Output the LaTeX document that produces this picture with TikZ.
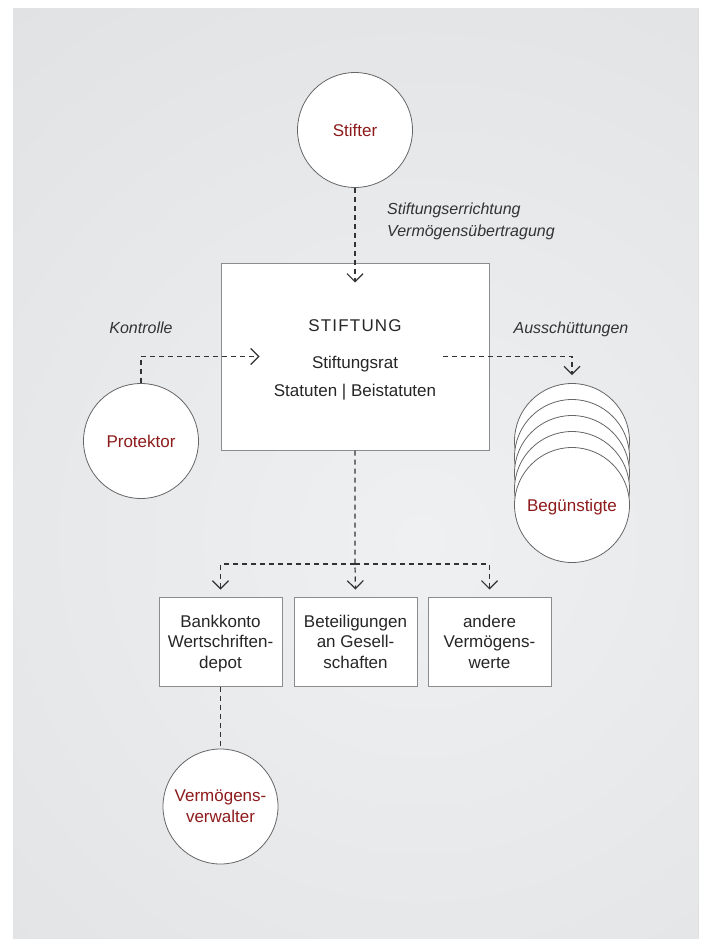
\documentclass[tikz,border=0pt]{standalone}
\usepackage{fontspec}
\setmainfont{Liberation Sans}
\usetikzlibrary{arrows.meta}
\definecolor{bgin}{HTML}{EFF0F2}
\definecolor{bgout}{HTML}{D2D3D5}
\definecolor{darkred}{HTML}{8E1B1B}
\definecolor{linegray}{HTML}{333333}
\definecolor{boxgray}{HTML}{8C8C8C}
\definecolor{circgray}{HTML}{666666}
\definecolor{labgray}{HTML}{333333}
\definecolor{txt}{HTML}{262626}
\begin{document}
\begin{tikzpicture}[x=1pt,y=-1pt,
  circ/.style={circle,draw=circgray,line width=0.8pt,fill=white,minimum size=115pt,inner sep=0pt},
  boxb/.style={rectangle,draw=boxgray,line width=1pt,fill=white,inner sep=0pt},
  lbl/.style={inner sep=0pt,anchor=base,font=\fontsize{17}{20}\selectfont},
  redt/.style={lbl,text=darkred},
  boxt/.style={lbl,text=txt},
  itl/.style={inner sep=0pt,anchor=base,font=\fontsize{16}{19}\selectfont\itshape,text=labgray},
  smallbox/.style={boxb,minimum width=123pt,minimum height=89pt},
  conn/.style={draw=linegray,line width=1.2pt,dash pattern=on 5pt off 4pt},
  arr/.style={conn,-{Straight Barb[length=8pt,width=16pt]}}
]
\useasboundingbox (0,0) rectangle (703,939);
\fill[white] (0,0) rectangle (703,939);
\begin{scope}
  \clip (13,9) rectangle (698,939);
  \fill[inner color=bgin,outer color=bgout] (420,540) circle[radius=1400pt];
\end{scope}

% Stifter
\node[circ] (stifter) at (355,130) {};
\node[redt] (stifterT) at (355,136) {Stifter};
\node[itl,anchor=base west] (lab1) at (387,214) {Stiftungserrichtung};
\node[itl,anchor=base west] (lab2) at (387,236) {Vermögensübertragung};

% Stiftung
\node[boxb,minimum width=268pt,minimum height=187pt] (main) at (355,356.5) {};
\node[boxt,font=\fontsize{17}{20}\selectfont\addfontfeatures{LetterSpace=7}] (mainT) at (355,331) {STIFTUNG};
\node[boxt] (mainT2) at (355,368) {Stiftungsrat};
\node[boxt] (mainT3) at (355,396) {Statuten | Beistatuten};

% Protektor
\node[circ] (prot) at (141,441) {};
\node[redt] (protT) at (141,447) {Protektor};
\node[itl] (kontr) at (141,333) {Kontrolle};

% Beguenstigte
\node[itl] (aus) at (571,333) {Ausschüttungen};
\node[circ] (beg1) at (572,441) {};
\node[circ] (beg2) at (572,457) {};
\node[circ] (beg3) at (572,473) {};
\node[circ] (beg4) at (572,489) {};
\node[circ] (beg5) at (572,505) {};
\node[redt] (begT) at (572,511) {Begünstigte};

% bottom boxes
\node[smallbox] (b1) at (220.5,641.5) {};
\node[smallbox] (b2) at (355.5,641.5) {};
\node[smallbox] (b3) at (489.5,641.5) {};
\node[boxt] (b1a) at (220.5,627) {Bankkonto};
\node[boxt] (b1b) at (220.5,647.5) {Wertschriften-};
\node[boxt] (b1c) at (220.5,668) {depot};
\node[boxt] (b2a) at (355.5,627) {Beteiligungen};
\node[boxt] (b2b) at (355.5,647.5) {an Gesell-};
\node[boxt] (b2c) at (355.5,668) {schaften};
\node[boxt] (b3a) at (489.5,627) {andere};
\node[boxt] (b3b) at (489.5,647.5) {Vermögens-};
\node[boxt] (b3c) at (489.5,668) {werte};

% Verwalter
\node[circ] (verw) at (220.5,806.5) {};
\node[redt] (verwA) at (220.5,801) {Vermögens-};
\node[redt] (verwB) at (220.5,822) {verwalter};

% connectors
\coordinate (tipTop) at ([yshift=-20pt]main.north);
\coordinate (tipLeft) at ([xshift=39pt]main.west);
\coordinate (startRight) at ([xshift=-47pt]main.east);
\coordinate (tipBeg) at ([yshift=8pt]beg1.north);
\coordinate (split) at (355,564);
\coordinate (tip1) at ([yshift=7pt]b1.north);
\coordinate (tip2) at ([yshift=7pt]b2.north);
\coordinate (tip3) at ([yshift=7pt]b3.north);

\draw[arr] (stifter.south) -- (tipTop);
\draw[arr] (prot.north) |- (tipLeft);
\draw[arr] (startRight) -| (tipBeg);
\draw[arr] (main.south) -- (split) -- (tip2);
\draw[arr] (split) -| (tip1);
\draw[arr] (split) -| (tip3);
\draw[conn] (b1.south) -- (verw.north);
\end{tikzpicture}
\end{document}
